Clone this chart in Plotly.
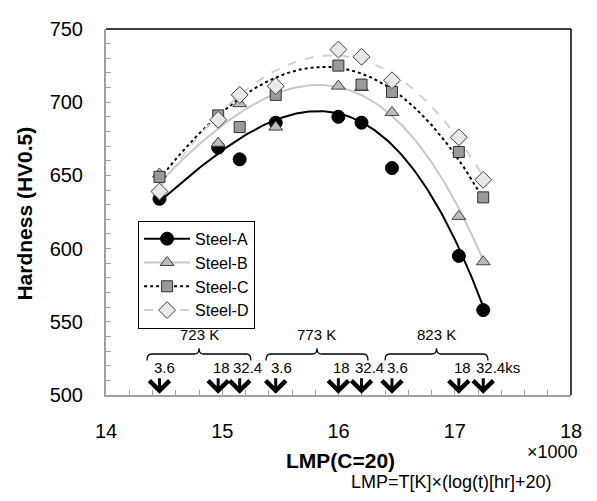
import numpy as np
import plotly.graph_objects as go

# ---- data (measured points) ----
lmp = [14460, 14965, 15150, 15460, 15999, 16198, 16460, 17035, 17245]
steel_a = [634, 669, 661, 686, 690, 686, 655, 595, 558]
steel_b = [651, 672, 699, 683, 711, 710, 693, 622, 591]
steel_c = [649, 691, 683, 705, 725, 712, 707, 666, 635]
steel_d = [639, 688, 705, 711, 736, 731, 715, 676, 647]
series_names = ["Steel-A", "Steel-B", "Steel-C", "Steel-D"]

# ---- trend curves ----
curve_a_x = [14460, 14965, 15460, 16000, 16198, 16460, 16740, 17035, 17245]
curve_a_y = [634, 661, 688, 695, 689, 673, 638, 596, 565]
curve_b_x = [14460, 14965, 15150, 15460, 16000, 16198, 16460, 16740, 17035, 17245]
curve_b_y = [645, 683, 693, 704, 709, 706, 695, 663, 625, 594]
curve_c_x = [14460, 14965, 15150, 15460, 16000, 16198, 16460, 16740, 17035, 17245]
curve_c_y = [648, 690, 703, 716, 725, 721, 708, 687, 662, 634]
curve_d_x = [14460, 14965, 15150, 15460, 16000, 16198, 16460, 16740, 17035, 17245]
curve_d_y = [642, 691, 705, 719, 735, 732, 718, 698, 676, 650]

temps = ["723 K", "773 K", "823 K"]
time_labels = ["3.6", "18", "32.4", "3.6", "18", "32.4", "3.6", "18", "32.4ks"]
x_ticks = [14000, 15000, 16000, 17000, 18000]
x_tick_text = ["14", "15", "16", "17", "18"]

# ---- styles ----
FONT = "Liberation Sans, Arial, sans-serif"
styles = [
    dict(line=dict(color="black", width=2, dash="solid"),
         marker=dict(symbol="circle", size=13, color="black", line=dict(color="black", width=1))),
    dict(line=dict(color="#c8c8c8", width=2, dash="solid"),
         marker=dict(symbol="triangle-up", size=12, color="#bdbdbd", line=dict(color="#404040", width=1))),
    dict(line=dict(color="black", width=2, dash="dot"),
         marker=dict(symbol="square", size=11, color="#9a9a9a", line=dict(color="#303030", width=1))),
    dict(line=dict(color="#d0d0d0", width=2, dash="dash"),
         marker=dict(symbol="diamond", size=13, color="#e8e8e8", line=dict(color="#404040", width=1))),
]

fig = go.Figure()
all_series = [steel_a, steel_b, steel_c, steel_d]
curves = [(curve_a_x, curve_a_y), (curve_b_x, curve_b_y),
          (curve_c_x, curve_c_y), (curve_d_x, curve_d_y)]
for (cx, cy), st in zip(curves, styles):
    cx = np.array(cx, dtype=float)
    coef = np.polyfit(cx / 1000.0, np.array(cy, dtype=float), 3)
    xfit = np.linspace(cx.min(), cx.max(), 200)
    yfit = np.polyval(coef, xfit / 1000.0)
    fig.add_trace(go.Scatter(x=xfit, y=yfit, mode="lines", line=st["line"],
                             showlegend=False, hoverinfo="skip"))
for name, ys, st in zip(series_names, all_series, styles):
    fig.add_trace(go.Scatter(x=lmp, y=ys, mode="markers", marker=st["marker"],
                             showlegend=False, name=name))
for name, st in zip(series_names, styles):
    fig.add_trace(go.Scatter(x=[None], y=[None], mode="lines+markers", name=name,
                             line=st["line"], marker=st["marker"]))

# braces, temperature labels
brace_spans = [(14353, 15247), (15376, 16254), (16400, 17286)]
y_line, y_peak, y_end = 528, 532, 523.5
dx = 40
shapes = []
annotations = []
for (x0, x1), t in zip(brace_spans, temps):
    xc = (x0 + x1) / 2
    path = (f"M {x0},{y_end} Q {x0},{y_line} {x0+dx},{y_line} L {xc-dx},{y_line} "
            f"Q {xc},{y_line} {xc},{y_peak} Q {xc},{y_line} {xc+dx},{y_line} "
            f"L {x1-dx},{y_line} Q {x1},{y_line} {x1},{y_end}")
    shapes.append(dict(type="path", path=path, xref="x", yref="y",
                       line=dict(color="black", width=1.3)))
    annotations.append(dict(x=xc, y=541, xref="x", yref="y", text=t, showarrow=False,
                            font=dict(family=FONT, size=15, color="black")))

# arrows and time labels
for x, lab in zip(lmp, time_labels):
    annotations.append(dict(x=x, y=500.8, xref="x", yref="y", ax=x, ay=512.5,
                            axref="x", ayref="y", text="", showarrow=True,
                            arrowhead=4, arrowsize=1.3, arrowwidth=3, arrowcolor="black"))
    shift = -9 if lab.startswith("32.4") else -7
    annotations.append(dict(x=x, y=519, xref="x", yref="y", text=lab, showarrow=False,
                            xanchor="left", yanchor="middle", xshift=shift,
                            font=dict(family=FONT, size=15, color="black")))

# axis titles / notes
annotations += [
    dict(x=-0.176, y=0.496, xref="paper", yref="paper", text="<b>Hardness (HV0.5)</b>",
         textangle=-90, showarrow=False, xanchor="center", yanchor="middle",
         font=dict(family=FONT, size=21, color="black")),
    dict(x=0.505, y=-0.180, xref="paper", yref="paper", text="<b>LMP(C=20)</b>",
         showarrow=False, xanchor="center", yanchor="middle",
         font=dict(family=FONT, size=21, color="black")),
    dict(x=0.960, y=-0.155, xref="paper", yref="paper", text="×1000",
         showarrow=False, xanchor="center", yanchor="middle",
         font=dict(family=FONT, size=18, color="black")),
    dict(x=0.742, y=-0.239, xref="paper", yref="paper", text="LMP=T[K]×(log(t)[hr]+20)",
         showarrow=False, xanchor="center", yanchor="middle",
         font=dict(family=FONT, size=18, color="black")),
]

# top/right frame
shapes += [
    dict(type="line", xref="paper", yref="paper", x0=0, x1=1, y0=1, y1=1,
         line=dict(color="black", width=1.5)),
    dict(type="line", xref="paper", yref="paper", x0=1, x1=1, y0=0, y1=1,
         line=dict(color="black", width=1.5)),
]

fig.update_layout(
    width=589, height=493,
    margin=dict(l=98, r=26, t=10, b=106),
    paper_bgcolor="white", plot_bgcolor="white",
    font=dict(family=FONT, color="black"),
    shapes=shapes, annotations=annotations,
    legend=dict(x=0.069, y=0.476, xanchor="left", yanchor="top",
                bordercolor="black", borderwidth=1, bgcolor="white",
                font=dict(family=FONT, size=16, color="black"),
                tracegroupgap=0, itemwidth=46),
)
fig.update_xaxes(range=[14000, 18000], tickvals=x_ticks, ticktext=x_tick_text,
                 showgrid=False, zeroline=False, showline=True, linecolor="#a0a0a0",
                 linewidth=2, ticks="inside", ticklen=5, tickcolor="#a0a0a0",
                 tickfont=dict(family=FONT, size=20), ticklabelstandoff=17,
                 ticklabeloverflow="allow",
                 minor=dict(dtick=200, ticks="inside", ticklen=5, tickcolor="#a0a0a0"))
fig.update_yaxes(range=[500, 750], dtick=50, showgrid=False, zeroline=False,
                 showline=True, linecolor="#a0a0a0", linewidth=2, ticks="inside",
                 ticklen=5, tickcolor="#a0a0a0", tickfont=dict(family=FONT, size=20),
                 ticklabelstandoff=17, ticklabeloverflow="allow",
                 minor=dict(dtick=10, ticks="inside", ticklen=5, tickcolor="#a0a0a0"))

fig.write_html("out.html")
